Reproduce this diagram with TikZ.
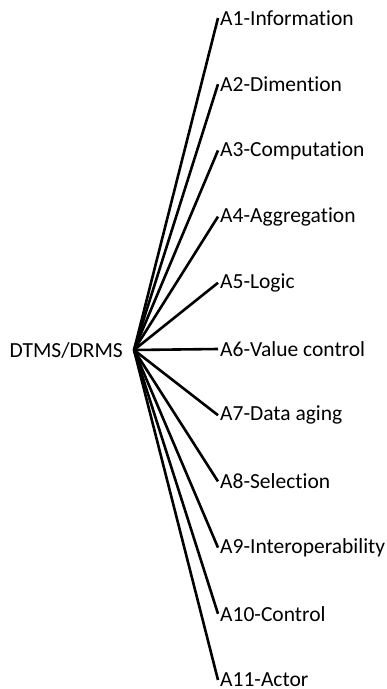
\documentclass[tikz,border=0pt]{standalone}
\usepackage{fontspec}
\setmainfont{Carlito}[RawFeature={-liga;-dlig;-clig}]
\begin{document}
\begin{tikzpicture}[x=1pt,y=-1pt,
  leaf/.style={anchor=west,inner xsep=2pt,inner ysep=0pt,font=\fontsize{21.5}{24}\selectfont},
  rootbox/.style={anchor=east,inner xsep=11pt,inner ysep=0pt,font=\fontsize{21.5}{24}\selectfont},
  conn/.style={line width=2.6pt}]
\useasboundingbox (0,0) rectangle (387,689);
\node[rootbox] (root) at (134,350) {DTMS/DRMS};
\foreach \i/\t in {1/A1-Information,2/A2-Dimention,3/A3-Computation,4/A4-Aggregation,5/A5-Logic,6/A6-Value control,7/A7-Data aging,8/A8-Selection,9/A9-Interoperability,10/A10-Control,11/A11-Actor}{
  \node[leaf] (a\i) at (218,{18+66.2*(\i-1)}) {\t};
  \draw[conn] (root.east) -- (a\i.west);
}
\end{tikzpicture}
\end{document}
